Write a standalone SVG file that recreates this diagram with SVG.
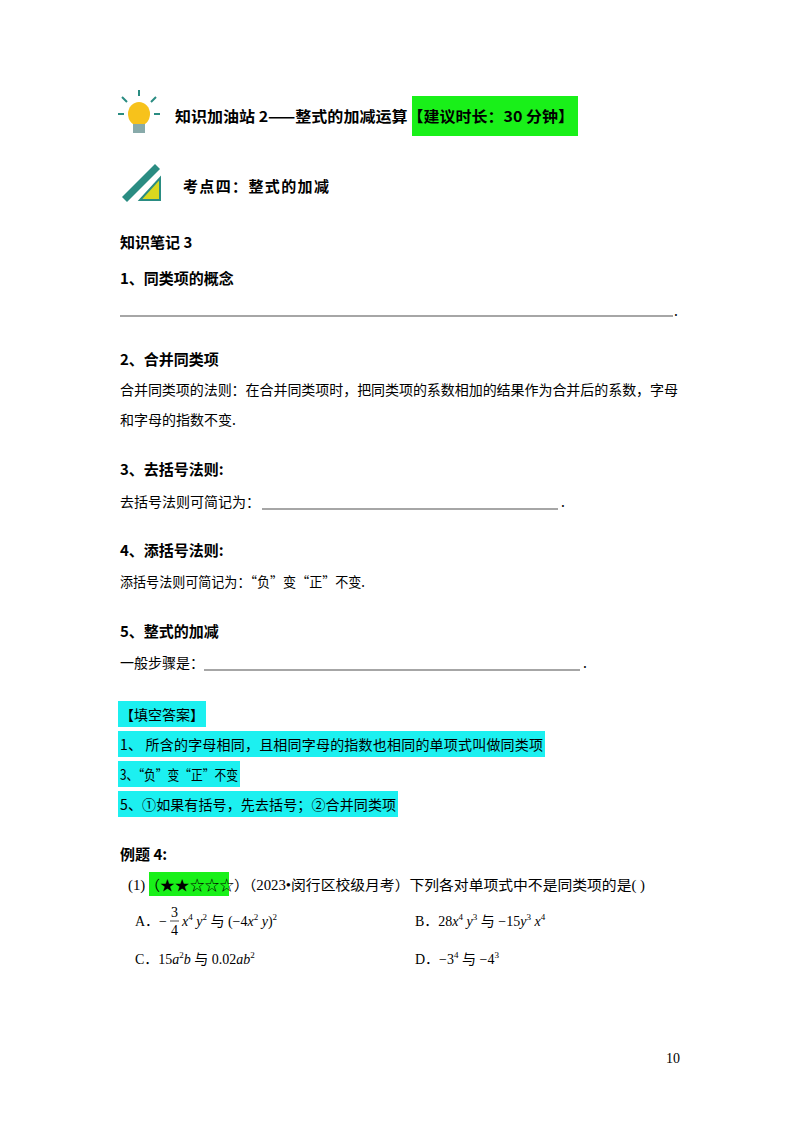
<svg xmlns="http://www.w3.org/2000/svg" width="800" height="1132" viewBox="0 0 800 1132">
<style>
.h{font-family:"Noto Sans CJK SC",sans-serif;font-weight:bold;font-size:15px;fill:#000}
.t{font-family:"Noto Sans CJK SC",sans-serif;font-size:14px;fill:#000}
.m{font-family:"Liberation Serif","Noto Sans CJK SC",serif;font-size:14px;fill:#000}
.i{font-style:italic}
.s{font-size:9px}
.ln{stroke:#000;stroke-width:0.7}
</style>
<rect width="800" height="1132" fill="#fff"/>
<g id="icon1">
<ellipse cx="139" cy="114" rx="11" ry="12" fill="#f7c21b"/>
<rect x="133" y="124" width="12" height="9" fill="#8aa"/>
<path d="M127 102 l-5 -5 M151 102 l5 -5 M139 96 v-6 M124 114 h-6 M154 114 h6" stroke="#2a8c82" stroke-width="2"/>
</g>
<g id="title1">
<rect x="412" y="96" width="166" height="40" fill="#19f019"/>
<text class="h" x="175" y="122" font-size="16" textLength="399" lengthAdjust="spacingAndGlyphs">知识加油站 2——整式的加减运算【建议时长：30 分钟】</text>
</g>
<g id="icon2">
<path d="M122 197 L155 164 L160 169 L127 202 Z" fill="#2a8c82"/>
<path d="M140 200 L160 178 L160 200 Z" fill="#d8d820" stroke="#2a8c82" stroke-width="2"/>
</g>
<text class="h" x="183" y="192" font-size="15" textLength="146">考点四：整式的加减</text>
<text class="h" x="120" y="248" font-size="16">知识笔记 3</text>
<text class="h" x="120" y="284" font-size="14">1、同类项的概念</text>
<line class="ln" x1="120" y1="316" x2="673" y2="316"/><text class="t" x="674" y="316">.</text>
<text class="h" x="120" y="365" font-size="14">2、合并同类项</text>
<text class="t" x="120" y="395" textLength="558">合并同类项的法则：在合并同类项时，把同类项的系数相加的结果作为合并后的系数，字母</text>
<text class="t" x="120" y="425">和字母的指数不变.</text>
<text class="h" x="120" y="475" font-size="14">3、去括号法则:</text>
<text class="t" x="120" y="507">去括号法则可简记为：</text>
<line class="ln" x1="262" y1="509" x2="558" y2="509"/><text class="t" x="561" y="507">.</text>
<text class="h" x="120" y="556" font-size="14">4、添括号法则:</text>
<text class="t" x="120" y="587" textLength="245" lengthAdjust="spacingAndGlyphs">添括号法则可简记为：“负”变“正”不变.</text>
<text class="h" x="120" y="637" font-size="14">5、整式的加减</text>
<text class="t" x="120" y="668">一般步骤是：</text>
<line class="ln" x1="204" y1="670" x2="580" y2="670"/><text class="t" x="583" y="668">.</text>
<g id="answers">
<rect x="118" y="701" width="88" height="26" fill="#1cf0f0"/>
<rect x="118" y="731" width="427" height="26" fill="#1cf0f0"/>
<rect x="118" y="761" width="122" height="26" fill="#1cf0f0"/>
<rect x="118" y="791" width="280" height="26" fill="#1cf0f0"/>
<text class="t" x="120" y="720">【填空答案】</text>
<text class="t" x="120" y="750" textLength="423">1、 所含的字母相同，且相同字母的指数也相同的单项式叫做同类项</text>
<text class="t" x="120" y="780" textLength="118" lengthAdjust="spacingAndGlyphs">3、“负”变“正”不变</text>
<text class="t" x="120" y="810" textLength="276">5、①如果有括号，先去括号；②合并同类项</text>
</g>
<text class="h" x="120" y="860" font-size="14">例题 4:</text>
<rect x="149" y="872" width="80" height="24" fill="#19f019"/>
<text class="m" x="128" y="890" textLength="517" lengthAdjust="spacingAndGlyphs">(1)（★★☆☆☆）（2023•闵行区校级月考）下列各对单项式中不是同类项的是(        )</text>
<text class="m" x="135" y="926">A．−</text>
<text class="m" x="171" y="917" font-size="13">3</text><line class="ln" x1="170" y1="921" x2="179" y2="921"/><text class="m" x="171" y="935" font-size="13">4</text>
<text class="m" x="182" y="926"><tspan class="i">x</tspan><tspan class="s" dy="-6">4</tspan><tspan class="i" dy="6"> y</tspan><tspan class="s" dy="-6">2</tspan><tspan dy="6"> 与 (−4</tspan><tspan class="i">x</tspan><tspan class="s" dy="-6">2</tspan><tspan class="i" dy="6"> y</tspan><tspan>)</tspan><tspan class="s" dy="-6">2</tspan></text>
<text class="m" x="415" y="926">B．28<tspan class="i">x</tspan><tspan class="s" dy="-6">4</tspan><tspan class="i" dy="6"> y</tspan><tspan class="s" dy="-6">3</tspan><tspan dy="6"> 与 −15</tspan><tspan class="i">y</tspan><tspan class="s" dy="-6">3</tspan><tspan class="i" dy="6"> x</tspan><tspan class="s" dy="-6">4</tspan></text>
<text class="m" x="135" y="964">C．15<tspan class="i">a</tspan><tspan class="s" dy="-6">2</tspan><tspan class="i" dy="6">b</tspan><tspan> 与 0.02</tspan><tspan class="i">ab</tspan><tspan class="s" dy="-6">2</tspan></text>
<text class="m" x="415" y="964">D．−3<tspan class="s" dy="-6">4</tspan><tspan dy="6"> 与 −4</tspan><tspan class="s" dy="-6">3</tspan></text>
<text class="m" x="666" y="1063" font-size="13">10</text>
</svg>
